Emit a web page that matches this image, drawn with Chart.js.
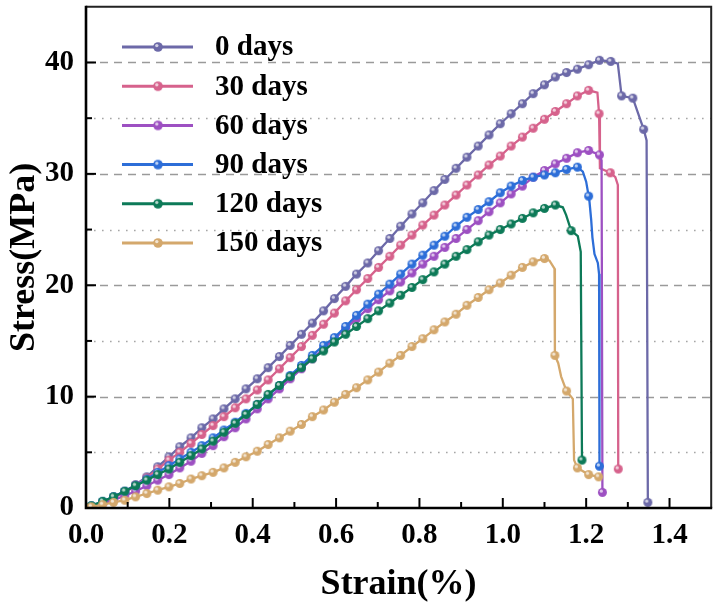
<!DOCTYPE html>
<html><head><meta charset="utf-8">
<script src="https://cdn.jsdelivr.net/npm/chart.js@4/dist/chart.umd.min.js"></script>
<style>html,body{margin:0;padding:0;background:#fff}#wrap{width:718px;height:606px}</style>
</head><body><div id="wrap"><canvas id="c" width="718" height="606"></canvas></div>
<script>
// ---------- data ----------
const seriesNames = ['0 days', '30 days', '60 days', '90 days', '120 days', '150 days'];
const seriesColors = ['#6C69A8', '#D6628C', '#9D50C2', '#2D6ED8', '#0D7A58', '#D4A86C'];

// strain (%) at which the markers sit on the rising branches
const strainGrid = [0, 0.013, 0.040, 0.066, 0.093, 0.119, 0.146, 0.172, 0.199, 0.225, 0.252, 0.278, 0.305, 0.331, 0.358, 0.384, 0.411, 0.437, 0.464, 0.490, 0.517, 0.543, 0.570, 0.596, 0.623, 0.649, 0.676, 0.702, 0.729, 0.755, 0.782, 0.808, 0.835, 0.861, 0.888, 0.914, 0.941, 0.967, 0.994, 1.020, 1.047, 1.073, 1.100, 1.126, 1.153, 1.179, 1.206, 1.232, 1.259];

// stress (MPa) on the rising branches
const stress0   = [0, 0.15, 0.5, 1.0, 1.5, 2.1, 2.8, 3.7, 4.6, 5.5, 6.3, 7.2, 8.0, 8.9, 9.8, 10.7, 11.6, 12.6, 13.6, 14.6, 15.6, 16.6, 17.7, 18.8, 19.9, 21.0, 22.0, 23.1, 24.2, 25.3, 26.4, 27.4, 28.5, 29.5, 30.5, 31.5, 32.5, 33.5, 34.5, 35.4, 36.3, 37.2, 38.0, 38.7, 39.1, 39.4, 39.8, 40.2, 40.1];
const stress30  = [0, 0.15, 0.5, 0.9, 1.4, 2.0, 2.7, 3.5, 4.3, 5.0, 5.8, 6.6, 7.4, 8.2, 9.0, 9.8, 10.6, 11.5, 12.5, 13.5, 14.5, 15.5, 16.5, 17.5, 18.6, 19.6, 20.6, 21.6, 22.6, 23.6, 24.5, 25.4, 26.3, 27.2, 28.1, 29.0, 29.9, 30.8, 31.6, 32.5, 33.3, 34.1, 34.9, 35.6, 36.3, 37.0, 37.5];
const stress60  = [0, 0.1, 0.4, 0.7, 1.1, 1.5, 2.0, 2.5, 3.0, 3.6, 4.2, 4.9, 5.6, 6.4, 7.2, 8.0, 8.9, 9.8, 10.7, 11.6, 12.5, 13.4, 14.3, 15.2, 16.1, 17.0, 17.9, 18.7, 19.5, 20.3, 21.1, 21.9, 22.6, 23.4, 24.2, 25.0, 25.8, 26.6, 27.4, 28.2, 28.9, 29.7, 30.3, 30.9, 31.4, 31.9, 32.1, 31.7];
const stress90  = [0, 0.2, 0.6, 1.0, 1.5, 2.0, 2.6, 3.2, 3.8, 4.4, 5.0, 5.6, 6.3, 7.0, 7.7, 8.5, 9.3, 10.1, 11.0, 11.9, 12.8, 13.7, 14.6, 15.3, 16.3, 17.3, 18.3, 19.2, 20.1, 21.0, 21.9, 22.7, 23.6, 24.4, 25.3, 26.1, 26.8, 27.5, 28.3, 28.9, 29.4, 29.7, 29.9, 30.1, 30.4, 30.6];
const stress120 = [0, 0.2, 0.6, 1.0, 1.5, 2.0, 2.5, 3.0, 3.5, 4.1, 4.7, 5.3, 6.0, 6.8, 7.6, 8.4, 9.3, 10.2, 11.0, 11.8, 12.6, 13.4, 14.1, 14.9, 15.6, 16.3, 17.0, 17.7, 18.4, 19.1, 19.8, 20.5, 21.2, 21.9, 22.6, 23.2, 23.9, 24.5, 25.0, 25.5, 26.0, 26.5, 26.9, 27.2];
const stress150 = [0, 0.1, 0.3, 0.5, 0.7, 1.0, 1.3, 1.6, 1.9, 2.2, 2.6, 2.9, 3.2, 3.6, 4.1, 4.6, 5.1, 5.7, 6.3, 6.9, 7.5, 8.2, 8.8, 9.5, 10.2, 10.8, 11.5, 12.2, 13.0, 13.7, 14.5, 15.2, 16.0, 16.7, 17.4, 18.2, 18.9, 19.6, 20.2, 20.9, 21.6, 22.1, 22.4];

// failure branches: strain, stress, and whether a marker is drawn there (1) or it is only a bend (0)
const tailStrain0 = [1.276, 1.285, 1.312, 1.338, 1.345, 1.348];
const tailStress0 = [39.9, 37.0, 36.8, 34.0, 33.0, 0.5];
const tailMark0   = [0, 1, 1, 1, 0, 1];
const tailStrain30 = [1.227, 1.231, 1.233, 1.258, 1.270, 1.276, 1.277];
const tailStress30 = [37.3, 35.4, 30.5, 30.1, 29.7, 29.0, 3.5];
const tailMark30   = [0, 1, 0, 1, 0, 0, 1];
const tailStrain60 = [1.237, 1.239];
const tailStress60 = [31.2, 1.4];
const tailMark60   = [0, 1];
const tailStrain90 = [1.192, 1.200, 1.206, 1.208, 1.212, 1.215, 1.220, 1.228, 1.231, 1.232];
const tailStress90 = [30.2, 29.3, 28.0, 27.5, 25.9, 24.3, 22.8, 22.0, 21.0, 3.75];
const tailMark90   = [0, 0, 1, 0, 0, 0, 0, 0, 0, 1];
const tailStrain120 = [1.144, 1.152, 1.164, 1.180, 1.187, 1.190];
const tailStress120 = [27.0, 26.3, 24.9, 24.4, 23.0, 4.3];
const tailMark120   = [0, 0, 1, 0, 0, 1];
const tailStrain150 = [1.112, 1.124, 1.125, 1.133, 1.140, 1.153, 1.168, 1.171, 1.179, 1.206, 1.230];
const tailStress150 = [22.2, 21.5, 13.7, 13.0, 11.8, 10.5, 9.8, 4.3, 3.6, 3.0, 2.8];
const tailMark150   = [0, 0, 1, 0, 0, 1, 0, 0, 1, 1, 1];

const xTickLabels = ['0.0', '0.2', '0.4', '0.6', '0.8', '1.0', '1.2', '1.4'];
const yTickLabels = ['0', '10', '20', '30', '40'];

// ---------- build ----------
const FONT = "'Liberation Serif', 'Times New Roman', serif";

function sphere(color, r) {
  const s = Math.ceil(r * 2 + 2);
  const c = document.createElement('canvas');
  c.width = s; c.height = s;
  const g = c.getContext('2d');
  g.fillStyle = color;
  g.beginPath(); g.arc(s / 2, s / 2, r, 0, Math.PI * 2); g.fill();
  g.fillStyle = 'rgba(255,255,255,0.7)';
  g.beginPath(); g.arc(s / 2 - r * 0.25, s / 2 - r * 0.3, r * 0.35, 0, Math.PI * 2); g.fill();
  return c;
}

function buildSeries(stressVals, tx, ty, tm) {
  const pts = [], marks = [];
  stressVals.forEach((v, i) => { pts.push({ x: strainGrid[i], y: v }); marks.push(1); });
  tx.forEach((v, i) => { pts.push({ x: v, y: ty[i] }); marks.push(tm[i]); });
  return { pts, marks };
}

const raw = [
  buildSeries(stress0, tailStrain0, tailStress0, tailMark0),
  buildSeries(stress30, tailStrain30, tailStress30, tailMark30),
  buildSeries(stress60, tailStrain60, tailStress60, tailMark60),
  buildSeries(stress90, tailStrain90, tailStress90, tailMark90),
  buildSeries(stress120, tailStrain120, tailStress120, tailMark120),
  buildSeries(stress150, tailStrain150, tailStress150, tailMark150)
];

const markerImgs = seriesColors.map(c => sphere(c, 4.5));
const legendImgs = seriesColors.map(c => sphere(c, 4.8));

const datasets = raw.map((s, i) => ({
  label: seriesNames[i],
  data: s.pts,
  borderColor: seriesColors[i],
  backgroundColor: seriesColors[i],
  borderWidth: 2.3,
  tension: 0,
  pointStyle: markerImgs[i],
  pointRadius: ctx => (s.marks[ctx.dataIndex] ? 4.5 : 0),
  order: 10 - i
}));

const frame = {
  id: 'frame',
  beforeDatasetsDraw(chart) {
    const { ctx, chartArea: a, scales: { y } } = chart;
    ctx.save();
    y.ticks.forEach(t => {
      if (t.value <= 0 || t.value >= 45) return;
      const py = Math.round(y.getPixelForValue(t.value)) + 0.5;
      const major = t.value % 10 === 0;
      ctx.strokeStyle = major ? '#9a9a9a' : '#a6a6a6';
      ctx.lineWidth = major ? 1.4 : 1.6;
      ctx.setLineDash(major ? [8, 6] : [1.6, 6.4]);
      ctx.beginPath(); ctx.moveTo(a.left, py); ctx.lineTo(a.right, py); ctx.stroke();
    });
    ctx.restore();
  },
  afterDatasetsDraw(chart) {
    const { ctx, chartArea: a, scales: { x, y } } = chart;
    ctx.save();
    ctx.setLineDash([]);
    // frame
    ctx.strokeStyle = '#222';
    ctx.lineWidth = 2;
    ctx.beginPath(); ctx.moveTo(a.left, a.top); ctx.lineTo(a.right, a.top); ctx.lineTo(a.right, a.bottom); ctx.stroke();
    ctx.strokeStyle = '#000';
    ctx.lineWidth = 2.6;
    ctx.beginPath(); ctx.moveTo(a.left, a.top - 1); ctx.lineTo(a.left, a.bottom); ctx.lineTo(a.right + 1, a.bottom); ctx.stroke();
    // inward ticks
    ctx.lineWidth = 2;
    x.ticks.forEach(t => {
      const k = Math.round(t.value * 10);
      if (k <= 0 || k >= 15) return;
      const px = x.getPixelForValue(t.value);
      const len = k % 2 === 0 ? 10 : 6;
      ctx.beginPath(); ctx.moveTo(px, a.bottom); ctx.lineTo(px, a.bottom - len); ctx.stroke();
    });
    y.ticks.forEach(t => {
      if (t.value <= 0 || t.value >= 45) return;
      const py = y.getPixelForValue(t.value);
      const len = t.value % 10 === 0 ? 10 : 6;
      ctx.beginPath(); ctx.moveTo(a.left, py); ctx.lineTo(a.left + len, py); ctx.stroke();
    });
    // legend inside plot
    const y0 = 47, dy = 39.2;
    chart.data.datasets.forEach((ds, i) => {
      const ly = y0 + i * dy;
      ctx.strokeStyle = ds.borderColor;
      ctx.lineWidth = 3;
      ctx.beginPath(); ctx.moveTo(122, ly); ctx.lineTo(193, ly); ctx.stroke();
      const img = legendImgs[i];
      ctx.drawImage(img, 158 - img.width / 2, ly - img.height / 2);
      ctx.fillStyle = '#000';
      ctx.font = 'bold 29px ' + FONT;
      ctx.textBaseline = 'middle';
      ctx.textAlign = 'left';
      ctx.fillText(ds.label, 215, ly + 1);
    });
    ctx.restore();
  }
};

new Chart(document.getElementById('c'), {
  type: 'line',
  data: { datasets },
  options: {
    responsive: false,
    animation: false,
    devicePixelRatio: 1,
    events: [],
    layout: { padding: { left: 0, right: 5, top: 4, bottom: 0 } },
    plugins: { legend: { display: false }, tooltip: { enabled: false } },
    scales: {
      x: {
        type: 'linear', min: 0, max: 1.5,
        grid: { display: false, drawTicks: false },
        border: { display: false },
        ticks: {
          stepSize: 0.1, autoSkip: false, maxRotation: 0, padding: 10, color: '#000',
          font: { family: FONT, weight: 'bold', size: 29 },
          callback: v => { const k = Math.round(v * 10); return (k % 2 === 0 && k / 2 < xTickLabels.length) ? xTickLabels[k / 2] : ''; }
        },
        title: { display: true, text: 'Strain(%)', color: '#000', font: { family: FONT, weight: 'bold', size: 36 }, padding: { top: 0, bottom: 0 } },
        afterFit: s => { s.height = 98; s.paddingLeft = 0; s.paddingRight = 0; }
      },
      y: {
        type: 'linear', min: 0, max: 45,
        grid: { display: false, drawTicks: false },
        border: { display: false },
        ticks: {
          stepSize: 5, autoSkip: false, padding: 12, color: '#000',
          font: { family: FONT, weight: 'bold', size: 29 },
          callback: v => (v % 10 === 0 && v / 10 < yTickLabels.length) ? yTickLabels[v / 10] : ''
        },
        title: { display: true, text: 'Stress(MPa)', color: '#000', font: { family: FONT, weight: 'bold', size: 36 }, padding: { top: 3, bottom: 0 } },
        afterFit: s => { s.width = 86; s.paddingTop = 0; s.paddingBottom = 0; }
      }
    }
  },
  plugins: [frame]
});
</script>
</body></html>
